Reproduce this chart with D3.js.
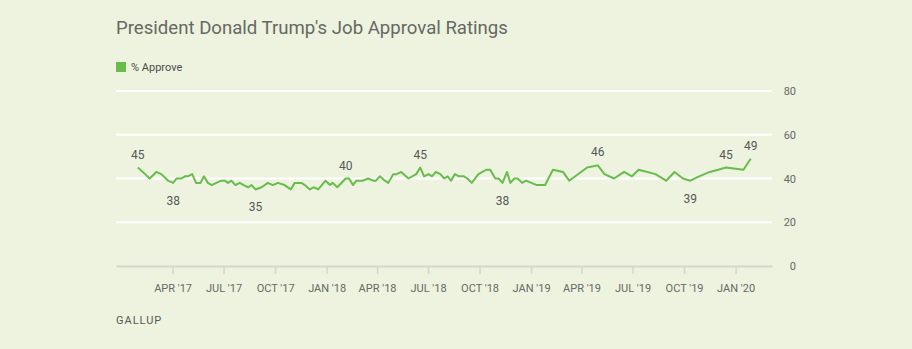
<!DOCTYPE html>
<html>
<head>
<meta charset="utf-8">
<script src="https://cdn.jsdelivr.net/npm/d3@7"></script>
<style>
  html, body { margin: 0; padding: 0; background: #edf3df; }
  svg { display: block; }
  text { font-family: Roboto, "Liberation Sans", sans-serif; }
</style>
</head>
<body>
<svg id="chart" width="912" height="349"></svg>
<script>
// ---- data (poll end dates and % approve) ----
const pollDates = [
  "2017-01-29","2017-02-11","2017-02-19","2017-03-03","2017-03-12","2017-03-24","2017-04-02","2017-04-08",
  "2017-04-17","2017-04-23","2017-04-28","2017-05-06","2017-05-13","2017-05-21","2017-05-27","2017-06-03",
  "2017-06-10","2017-06-18","2017-06-27","2017-07-03","2017-07-09","2017-07-15","2017-07-22","2017-07-30",
  "2017-08-06","2017-08-14","2017-08-20","2017-08-27","2017-09-07","2017-09-18","2017-09-27","2017-10-06",
  "2017-10-18","2017-10-29","2017-11-05","2017-11-17","2017-11-23","2017-12-02","2017-12-09","2017-12-17",
  "2017-12-30","2018-01-07","2018-01-12","2018-01-20","2018-02-04","2018-02-10","2018-02-17","2018-02-23",
  "2018-03-07","2018-03-16","2018-03-25","2018-03-30","2018-04-06","2018-04-15","2018-04-21","2018-04-30",
  "2018-05-06","2018-05-14","2018-05-27","2018-06-10","2018-06-17","2018-06-24","2018-07-02","2018-07-08",
  "2018-07-15","2018-07-23","2018-07-30","2018-08-05","2018-08-11","2018-08-18","2018-08-25","2018-09-03",
  "2018-09-09","2018-09-17","2018-09-29","2018-10-13","2018-10-20","2018-10-29","2018-11-04","2018-11-11",
  "2018-11-19","2018-11-25","2018-12-02","2018-12-08","2018-12-16","2018-12-23","2019-01-11","2019-01-26",
  "2019-02-09","2019-02-27","2019-03-10","2019-04-11","2019-04-30","2019-05-12","2019-05-29","2019-06-16",
  "2019-06-30","2019-07-12","2019-08-11","2019-08-30","2019-09-14","2019-09-29","2019-10-12","2019-10-28",
  "2019-11-16","2019-12-01","2019-12-15","2020-01-15","2020-01-28"
];
const approve = [
  45,42,40,43,42,39,38,40,
  40,41,41,42,38,38,41,38,
  37,38,39,39,38,39,37,38,
  37,36,37,35,36,38,37,38,
  37,35,38,38,37,35,36,35,
  39,37,38,36,40,40,37,39,
  39,40,39,39,41,39,38,42,
  42,43,40,42,45,41,42,41,
  43,42,40,41,39,42,41,41,
  40,38,42,44,44,40,40,38,
  43,38,40,40,38,39,37,37,
  44,43,39,45,46,42,40,43,
  41,44,42,39,43,40,39,41,
  43,44,45,44,49
];
// labelled points: date, position (above/below)
const labelDates = ["2017-01-29","2017-04-02","2017-08-27","2018-02-04","2018-06-17","2018-11-11","2019-04-30","2019-10-12","2019-12-15","2020-01-28"];
const labelSides = ["above","below","below","above","above","below","above","below","above","above"];
const yTicks = [0, 20, 40, 60, 80];
const xTickDates = ["2017-04-01","2017-07-01","2017-10-01","2018-01-01","2018-04-01","2018-07-01","2018-10-01","2019-01-01","2019-04-01","2019-07-01","2019-10-01","2020-01-01"];
const xTickLabels = ["APR '17","JUL '17","OCT '17","JAN '18","APR '18","JUL '18","OCT '18","JAN '19","APR '19","JUL '19","OCT '19","JAN '20"];
const xDomain = ["2016-12-21","2020-03-06"];

const title = "President Donald Trump's Job Approval Ratings";
const seriesName = "% Approve";
const source = "GALLUP";

// ---- drawing ----
const parse = d3.utcParse("%Y-%m-%d");
const data = pollDates.map((d, i) => ({ date: parse(d), value: approve[i] }));

const svg = d3.select("#chart");
const green = "#67bc4b";
const textGray = "#666a66";

const x = d3.scaleUtc().domain(xDomain.map(parse)).range([116, 772]);
const y = d3.scaleLinear().domain([0, 80]).range([266, 91]);

// title
svg.append("text").attr("x", 116).attr("y", 34)
  .attr("font-size", 18.6).attr("fill", "#656963").text(title);

// legend
svg.append("rect").attr("x", 116).attr("y", 62).attr("width", 10).attr("height", 10).attr("fill", green);
svg.append("text").attr("x", 131).attr("y", 71).attr("font-size", 11).attr("fill", "#4a4d4a").text(seriesName);

// gridlines
svg.append("g").selectAll("line").data(yTicks.filter(t => t > 0)).join("line")
  .attr("x1", 116).attr("x2", 772)
  .attr("y1", d => y(d)).attr("y2", d => y(d))
  .attr("stroke", "#ffffff").attr("stroke-width", 2);

// y tick labels at right
svg.append("g").selectAll("text").data(yTicks).join("text")
  .attr("x", 796).attr("y", d => y(d) + 4)
  .attr("text-anchor", "end").attr("font-size", 11).attr("fill", textGray)
  .text(d => d);

// x axis
const xAxis = d3.axisBottom(x)
  .tickValues(xTickDates.map(parse))
  .tickFormat((d, i) => xTickLabels[i])
  .tickSizeInner(8).tickSizeOuter(0).tickPadding(10);
const gx = svg.append("g").attr("transform", `translate(0,${y(0)})`).call(xAxis);
gx.select(".domain").attr("stroke", "#d3d8cb").attr("stroke-width", 2);
gx.selectAll(".tick line").attr("stroke", "#d3d8cb").attr("stroke-width", 1.5);
gx.selectAll(".tick text").attr("font-size", 11).attr("fill", textGray)
  .attr("font-family", "Roboto, sans-serif");

// line
const line = d3.line().x(d => x(d.date)).y(d => y(d.value)).curve(d3.curveLinear);
svg.append("path").datum(data).attr("d", line)
  .attr("fill", "none").attr("stroke", green).attr("stroke-width", 2).attr("stroke-linejoin", "round");

// value labels
const labelled = labelDates.map((d, i) => {
  const pt = data.find(p => +p.date === +parse(d));
  return { ...pt, side: labelSides[i] };
});
svg.append("g").selectAll("text").data(labelled).join("text")
  .attr("x", d => x(d.date))
  .attr("y", d => d.side === "above" ? y(d.value) - 9 : y(d.value) + 22)
  .attr("text-anchor", "middle").attr("font-size", 12).attr("fill", "#555955")
  .text(d => d.value);

// source
svg.append("text").attr("x", 116).attr("y", 324)
  .attr("font-size", 11).attr("letter-spacing", 1).attr("fill", "#555955").text(source);
</script>
</body>
</html>
